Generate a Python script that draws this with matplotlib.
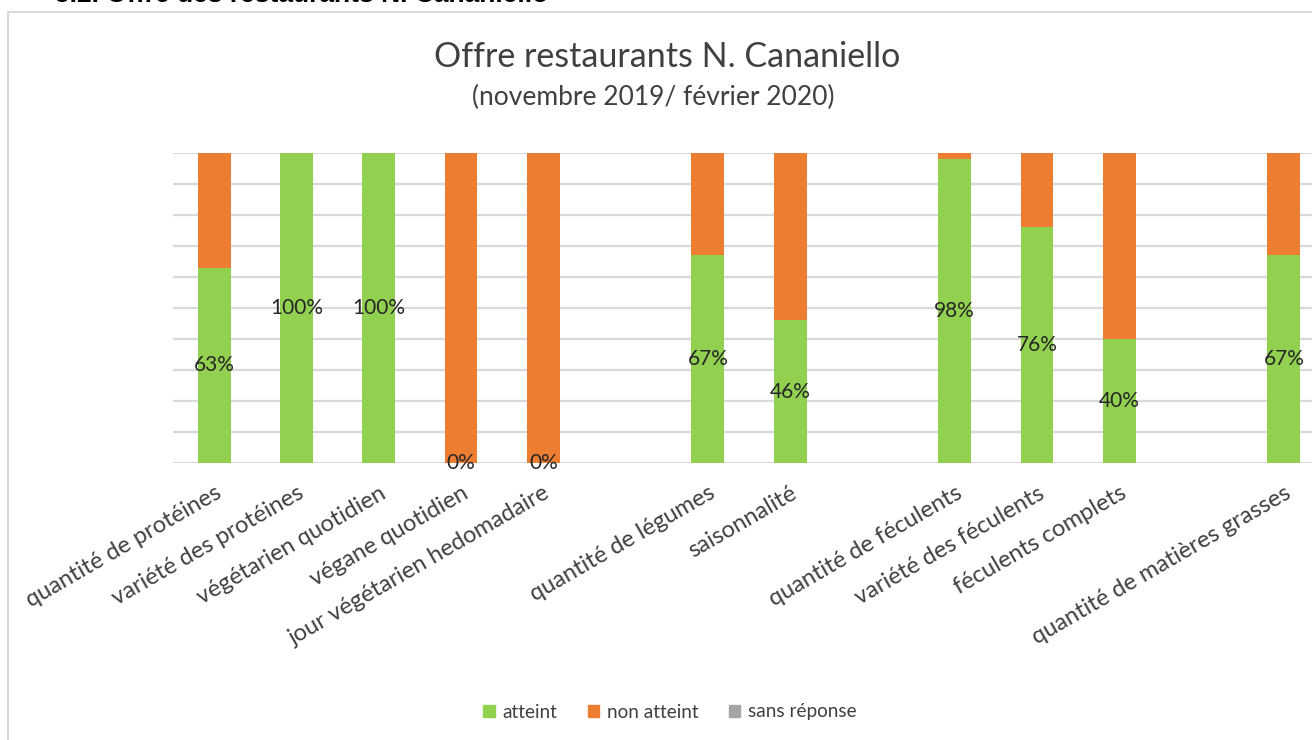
import matplotlib.pyplot as plt
from matplotlib.patches import Rectangle, Patch

plt.rcParams['font.family'] = ['Lato', 'DejaVu Sans']

# categories (empty strings are the gaps between groups)
categories = ["quantité de protéines", "variété des protéines", "végétarien quotidien",
              "végane quotidien", "jour végétarien hedomadaire", "",
              "quantité de légumes", "saisonnalité", "",
              "quantité de féculents", "variété des féculents", "féculents complets", "",
              "quantité de matières grasses"]
atteint = [63, 100, 100, 0, 0, None, 67, 46, None, 98, 76, 40, None, 67]
non_atteint = [37, 0, 0, 100, 100, None, 33, 54, None, 2, 24, 60, None, 33]
sans_reponse = [0, 0, 0, 0, 0, None, 0, 0, None, 0, 0, 0, None, 0]

GREEN = '#92d050'
ORANGE = '#ed7d31'
GREY = '#a5a5a5'
TXT = '#404040'

fig = plt.figure(figsize=(13.12, 7.4), dpi=100)

# header above the chart box (cut off at the top)
fig.text(55 / 1312, 1 + 5 / 740, "5.2. Offre des restaurants N. Cananiello",
         fontsize=19, fontweight='bold', family='Liberation Sans', va='center', ha='left')

# chart border
fig.patches.append(Rectangle((8 / 1312, -0.05), 1.1, (740 - 12) / 740 + 0.05,
                             transform=fig.transFigure, fill=False,
                             edgecolor='#d9d9d9', linewidth=1.5))

fig.text(667 / 1312, 1 - 57 / 740, "Offre restaurants N. Cananiello",
         fontsize=24.5, color=TXT, ha='center', va='center')
fig.text(653 / 1312, 1 - 97 / 740, "(novembre 2019/ février 2020)",
         fontsize=19, color=TXT, ha='center', va='center')

ax = fig.add_axes([173 / 1312, 277 / 740, 1152 / 1312, 310 / 740])

x = list(range(len(categories)))
idx = [i for i in x if atteint[i] is not None]
a = [atteint[i] for i in idx]
n = [non_atteint[i] for i in idx]
s = [sans_reponse[i] for i in idx]
w = 0.4
ax.bar(idx, a, w, color=GREEN, zorder=3)
ax.bar(idx, n, w, bottom=a, color=ORANGE, zorder=3)
ax.bar(idx, s, w, bottom=[p + q for p, q in zip(a, n)], color=GREY, zorder=3)

for i, v in zip(idx, a):
    ax.text(i, v / 2, f"{v}%", ha='center', va='center', fontsize=15,
            color='#262626', zorder=4)

ax.set_xlim(-0.5, len(categories) - 0.5)
ax.set_ylim(0, 100)
ax.set_yticks(range(0, 101, 10))
ax.yaxis.grid(True, color='#d9d9d9', linewidth=1.6, zorder=0)
ax.tick_params(axis='y', left=False, labelleft=False)
ax.tick_params(axis='x', length=0, pad=14)
for sp in ax.spines.values():
    sp.set_visible(False)

ax.set_xticks(x)
ax.set_xticklabels(categories, rotation=30, ha='right', rotation_mode='anchor',
                   fontsize=17, color=TXT)
for lbl in ax.get_xticklabels():
    lbl.set_x(lbl.get_position()[0] + 0.25)

handles = [Patch(color=GREEN, label='atteint'), Patch(color=ORANGE, label='non atteint'),
           Patch(color=GREY, label='sans réponse')]
fig.legend(handles=handles, loc='center', bbox_to_anchor=(670 / 1312, 1 - 712 / 740),
           ncol=3, frameon=False, fontsize=13.7, handlelength=0.6, handleheight=0.6,
           handletextpad=0.4, columnspacing=1.6, labelcolor=TXT)

fig.savefig('out.png', dpi=100)
